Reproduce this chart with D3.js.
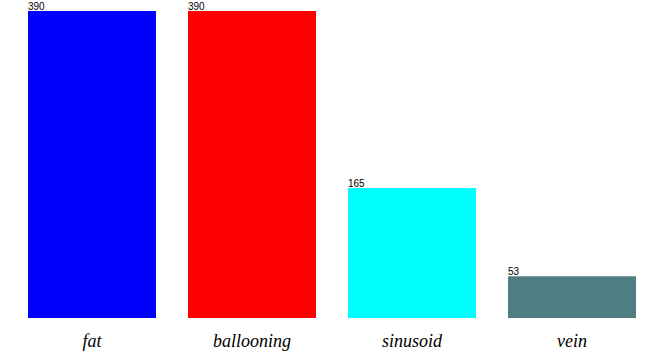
<!DOCTYPE html>
<html>
<head>
<meta charset="utf-8">
<script src="https://cdn.jsdelivr.net/npm/d3@7"></script>
<style>
  body { margin: 0; background: #fff; }
</style>
</head>
<body>
<div id="chart"></div>
<script>
// chart data
const categories = ["fat", "ballooning", "sinusoid", "vein"];
const counts = [390, 390, 165, 53];
const colors = ["#0000ff", "#ff0000", "#00ffff", "#4f7d81"];

const width = 661, height = 351;

const svg = d3.select("#chart")
    .append("svg")
        .attr("width", width)
        .attr("height", height);

// x band scale: bars 128 wide, 160 apart, first starts at 28
const x = d3.scaleBand()
    .domain(categories)
    .range([12, 652])
    .paddingInner(0.2)
    .paddingOuter(0.1);

const y = d3.scaleLinear()
    .domain([0, 390])
    .range([318, 11]);

const data = categories.map((c, i) => ({ cat: c, value: counts[i], color: colors[i] }));

svg.selectAll("rect.bar")
    .data(data)
    .join("rect")
        .attr("class", "bar")
        .attr("x", d => x(d.cat))
        .attr("y", d => y(d.value))
        .attr("width", x.bandwidth())
        .attr("height", d => y(0) - y(d.value))
        .style("fill", d => d.color);

// value labels, top-left of each bar
svg.selectAll("text.val")
    .data(data)
    .join("text")
        .attr("class", "val")
        .attr("x", d => x(d.cat))
        .attr("y", d => y(d.value) - 1)
        .style("font-family", "Arial, 'Liberation Sans', sans-serif")
        .style("font-size", "10px")
        .style("fill", "#000")
        .text(d => d.value);

// category labels
svg.selectAll("text.cat")
    .data(data)
    .join("text")
        .attr("class", "cat")
        .attr("x", d => x(d.cat) + x.bandwidth() / 2)
        .attr("y", 347)
        .attr("text-anchor", "middle")
        .style("font-family", "'Liberation Serif', 'Times New Roman', serif")
        .style("font-style", "italic")
        .style("font-size", "18px")
        .style("fill", "#000")
        .text(d => d.cat);
</script>
</body>
</html>
